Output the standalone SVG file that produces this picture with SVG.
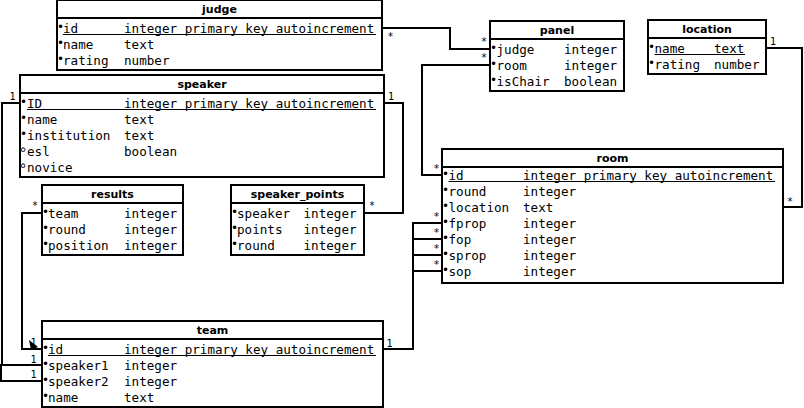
<svg xmlns="http://www.w3.org/2000/svg" width="804" height="408" viewBox="0 0 804 408">
<style>
.bg{fill:#fff}
.box{fill:#fff;stroke:#000;stroke-width:2}
.sep{stroke:#000;stroke-width:2}
.t{font-family:"DejaVu Sans",sans-serif;font-weight:bold;font-size:11px;text-anchor:middle;fill:#000}
.f{font-family:"DejaVu Sans Mono",monospace;font-size:12.6px;fill:#000}
.b{font-family:"DejaVu Sans",sans-serif;font-size:12px;fill:#000}
.h{font-family:"DejaVu Sans",sans-serif;font-size:14px;fill:#000;stroke:#000;stroke-width:0.3}
.u{stroke:#000;stroke-width:1}
.c{fill:none;stroke:#000;stroke-width:2}
.l{font-family:"DejaVu Sans Mono",monospace;font-size:10px;text-anchor:middle;fill:#000}
</style>
<rect class="bg" x="0" y="0" width="804" height="408"/>

<g id="connectors">
<polyline class="c" points="383,28 450,28 450,49 490,49"/>
<polyline class="c" points="490,65 422,65 422,175 442,175"/>
<polyline class="c" points="766,48 802,48 802,207 783,207"/>
<polyline class="c" points="384,103 403,103 403,213 364,213"/>
<polyline class="c" points="20,103 2,103 2,365 42,365"/>
<polyline class="c" points="2,365 1,365 1,381 42,381"/>
<polyline class="c" points="42,213 22,213 22,349 42,349"/>
<polygon points="29,340 38,347 31,350" fill="#000"/>
<polyline class="c" points="383,349 413,349 413,223 442,223"/>
<line class="c" x1="413" y1="239" x2="442" y2="239"/>
<line class="c" x1="413" y1="255" x2="442" y2="255"/>
<line class="c" x1="413" y1="271" x2="442" y2="271"/>
<text class="l" x="390.5" y="40">*</text>
<text class="l" x="484" y="45">*</text>
<text class="l" x="484" y="61">*</text>
<text class="l" x="436.5" y="171.5">*</text>
<text class="l" x="773" y="44.5">1</text>
<text class="l" x="790" y="204.5">*</text>
<text class="l" x="436.5" y="219.5">*</text>
<text class="l" x="436.5" y="236">*</text>
<text class="l" x="436.5" y="252">*</text>
<text class="l" x="436.5" y="268">*</text>
<text class="l" x="391" y="100">1</text>
<text class="l" x="372" y="209">*</text>
<text class="l" x="12.5" y="100">1</text>
<text class="l" x="33.5" y="345.5">1</text>
<text class="l" x="33.5" y="362.5">1</text>
<text class="l" x="33.5" y="378">1</text>
<text class="l" x="35" y="209">*</text>
<text class="l" x="389.5" y="346.5">1</text>
</g>

<g id="judge">
<rect class="box" x="57" y="0" width="325" height="70"/>
<line class="sep" x1="57" y1="18" x2="382" y2="18"/>
<text class="t" x="219.5" y="13">judge</text>
<text class="b" x="57" y="31">•</text><text class="f" x="63" y="32.5">id</text><text class="f" x="124" y="32.5">integer primary key autoincrement</text>
<line class="u" x1="63" y1="34.5" x2="376" y2="34.5"/>
<text class="b" x="57" y="47">•</text><text class="f" x="63" y="48.5">name</text><text class="f" x="124" y="48.5">text</text>
<text class="b" x="57" y="63">•</text><text class="f" x="63" y="64.5">rating</text><text class="f" x="124" y="64.5">number</text>
</g>

<g id="speaker">
<rect class="box" x="20" y="75" width="364" height="102"/>
<line class="sep" x1="20" y1="93" x2="384" y2="93"/>
<text class="t" x="202" y="88">speaker</text>
<text class="b" x="20" y="106">•</text><text class="f" x="27" y="107.5">ID</text><text class="f" x="124" y="107.5">integer primary key autoincrement</text>
<line class="u" x1="27" y1="109.5" x2="376" y2="109.5"/>
<text class="b" x="20" y="122">•</text><text class="f" x="27" y="123.5">name</text><text class="f" x="124" y="123.5">text</text>
<text class="b" x="20" y="138">•</text><text class="f" x="27" y="139.5">institution</text><text class="f" x="124" y="139.5">text</text>
<text class="h" x="19" y="154.5">◦</text><text class="f" x="27" y="155.5">esl</text><text class="f" x="124" y="155.5">boolean</text>
<text class="h" x="19" y="170.5">◦</text><text class="f" x="27" y="171.5">novice</text>
</g>

<g id="results">
<rect class="box" x="42" y="185" width="141" height="70"/>
<line class="sep" x1="42" y1="203" x2="183" y2="203"/>
<text class="t" x="112.5" y="198">results</text>
<text class="b" x="42" y="216">•</text><text class="f" x="48" y="217.5">team</text><text class="f" x="124" y="217.5">integer</text>
<text class="b" x="42" y="232">•</text><text class="f" x="48" y="233.5">round</text><text class="f" x="124" y="233.5">integer</text>
<text class="b" x="42" y="248">•</text><text class="f" x="48" y="249.5">position</text><text class="f" x="124" y="249.5">integer</text>
</g>

<g id="speaker_points">
<rect class="box" x="231" y="185" width="133" height="70"/>
<line class="sep" x1="231" y1="203" x2="364" y2="203"/>
<text class="t" x="297.5" y="198">speaker_points</text>
<text class="b" x="231" y="216">•</text><text class="f" x="237" y="217.5">speaker</text><text class="f" x="303.5" y="217.5">integer</text>
<text class="b" x="231" y="232">•</text><text class="f" x="237" y="233.5">points</text><text class="f" x="303.5" y="233.5">integer</text>
<text class="b" x="231" y="248">•</text><text class="f" x="237" y="249.5">round</text><text class="f" x="303.5" y="249.5">integer</text>
</g>

<g id="team">
<rect class="box" x="42" y="321" width="341" height="86"/>
<line class="sep" x1="42" y1="339" x2="383" y2="339"/>
<text class="t" x="212.5" y="334">team</text>
<text class="b" x="42" y="352">•</text><text class="f" x="48" y="353.5">id</text><text class="f" x="124" y="353.5">integer primary key autoincrement</text>
<line class="u" x1="48" y1="355.5" x2="376" y2="355.5"/>
<text class="b" x="42" y="368">•</text><text class="f" x="48" y="369.5">speaker1</text><text class="f" x="124" y="369.5">integer</text>
<text class="b" x="42" y="384">•</text><text class="f" x="48" y="385.5">speaker2</text><text class="f" x="124" y="385.5">integer</text>
<text class="b" x="42" y="400">•</text><text class="f" x="48" y="401.5">name</text><text class="f" x="124" y="401.5">text</text>
</g>

<g id="panel">
<rect class="box" x="490" y="21" width="134" height="70"/>
<line class="sep" x1="490" y1="39" x2="624" y2="39"/>
<text class="t" x="557" y="34">panel</text>
<text class="b" x="490" y="52">•</text><text class="f" x="496.5" y="53.5">judge</text><text class="f" x="564" y="53.5">integer</text>
<text class="b" x="490" y="68">•</text><text class="f" x="496.5" y="69.5">room</text><text class="f" x="564" y="69.5">integer</text>
<text class="b" x="490" y="84">•</text><text class="f" x="496.5" y="85.5">isChair</text><text class="f" x="564" y="85.5">boolean</text>
</g>

<g id="location">
<rect class="box" x="648" y="20" width="118" height="54"/>
<line class="sep" x1="648" y1="38" x2="766" y2="38"/>
<text class="t" x="707" y="33">location</text>
<text class="b" x="648" y="51">•</text><text class="f" x="654.5" y="52.5">name</text><text class="f" x="714" y="52.5">text</text>
<line class="u" x1="654.5" y1="54.5" x2="745" y2="54.5"/>
<text class="b" x="648" y="67">•</text><text class="f" x="654.5" y="68.5">rating</text><text class="f" x="714" y="68.5">number</text>
</g>

<g id="room">
<rect class="box" x="442" y="149" width="341" height="134"/>
<line class="sep" x1="442" y1="167" x2="783" y2="167"/>
<text class="t" x="612.5" y="162">room</text>
<text class="b" x="442" y="178">•</text><text class="f" x="448.5" y="179.5">id</text><text class="f" x="523" y="179.5">integer primary key autoincrement</text>
<line class="u" x1="448.5" y1="181.5" x2="775" y2="181.5"/>
<text class="b" x="442" y="194">•</text><text class="f" x="448.5" y="195.5">round</text><text class="f" x="523" y="195.5">integer</text>
<text class="b" x="442" y="210">•</text><text class="f" x="448.5" y="211.5">location</text><text class="f" x="523" y="211.5">text</text>
<text class="b" x="442" y="226">•</text><text class="f" x="448.5" y="227.5">fprop</text><text class="f" x="523" y="227.5">integer</text>
<text class="b" x="442" y="242">•</text><text class="f" x="448.5" y="243.5">fop</text><text class="f" x="523" y="243.5">integer</text>
<text class="b" x="442" y="258">•</text><text class="f" x="448.5" y="259.5">sprop</text><text class="f" x="523" y="259.5">integer</text>
<text class="b" x="442" y="274">•</text><text class="f" x="448.5" y="275.5">sop</text><text class="f" x="523" y="275.5">integer</text>
</g>
</svg>
